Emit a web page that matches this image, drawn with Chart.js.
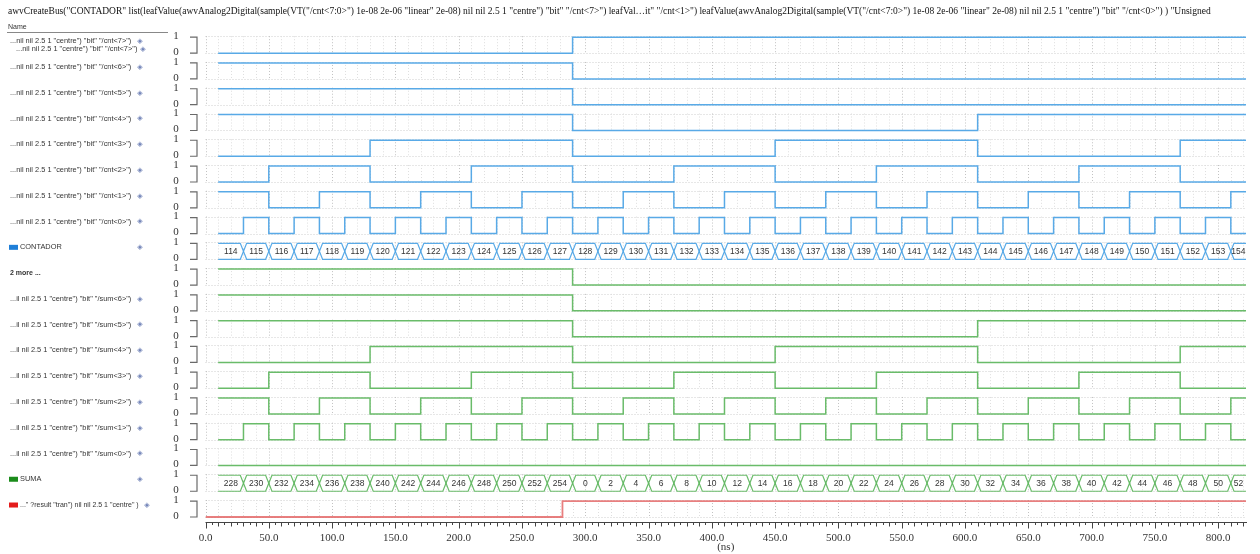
<!DOCTYPE html>
<html>
<head>
<meta charset="utf-8">
<script src="https://cdn.jsdelivr.net/npm/chart.js@4.4.1/dist/chart.umd.min.js"></script>
<style>
  html, body { margin: 0; padding: 0; background: #ffffff; }
  #wrap { width: 1260px; height: 554px; position: relative; }
</style>
</head>
<body>
<div id="wrap"><canvas id="c" width="1260" height="554"></canvas></div>
<script>
// Sample instants (ns) at which the counter bus takes a new value
const sampleTimes = [10, 30, 50, 70, 90, 110, 130, 150, 170, 190, 210, 230, 250, 270, 290,
  310, 330, 350, 370, 390, 410, 430, 450, 470, 490, 510, 530, 550, 570, 590, 610,
  630, 650, 670, 690, 710, 730, 750, 770, 790, 810];

// Bus values (unsigned) shown in the CONTADOR and SUMA rows
const contador = [114, 115, 116, 117, 118, 119, 120, 121, 122, 123, 124, 125, 126, 127, 128,
  129, 130, 131, 132, 133, 134, 135, 136, 137, 138, 139, 140, 141, 142, 143, 144,
  145, 146, 147, 148, 149, 150, 151, 152, 153, 154];
const suma = [228, 230, 232, 234, 236, 238, 240, 242, 244, 246, 248, 250, 252, 254, 0,
  2, 4, 6, 8, 10, 12, 14, 16, 18, 20, 22, 24, 26, 28, 30, 32,
  34, 36, 38, 40, 42, 44, 46, 48, 50, 52];

// Transient result signal: switching instants and levels
const resultTimes = [0, 282];
const resultLevels = [0, 1];

const endTime = 822;

// X axis ticks
const tickValues = [0, 50, 100, 150, 200, 250, 300, 350, 400, 450, 500, 550, 600, 650, 700, 750, 800];
const tickLabels = ['0.0', '50.0', '100.0', '150.0', '200.0', '250.0', '300.0', '350.0', '400.0',
  '450.0', '500.0', '550.0', '600.0', '650.0', '700.0', '750.0', '800.0'];

const title = 'awvCreateBus("CONTADOR" list(leafValue(awvAnalog2Digital(sample(VT("/cnt<7:0>") 1e-08 2e-06 "linear" 2e-08) nil nil 2.5 1 "centre") "bit" "/cnt<7>") leafVal\u2026it" "/cnt<1>") leafValue(awvAnalog2Digital(sample(VT("/cnt<7:0>") 1e-08 2e-06 "linear" 2e-08) nil nil 2.5 1 "centre") "bit" "/cnt<0>") ) "Unsigned';

// Row list, top to bottom
const rows = [
  { name: '...nil nil 2.5 1 "centre") "bit" "/cnt<7>")', kind: 'bit', src: contador, bit: 7, grp: 'cnt' },
  { name: '...nil nil 2.5 1 "centre") "bit" "/cnt<6>")', kind: 'bit', src: contador, bit: 6, grp: 'cnt' },
  { name: '...nil nil 2.5 1 "centre") "bit" "/cnt<5>")', kind: 'bit', src: contador, bit: 5, grp: 'cnt' },
  { name: '...nil nil 2.5 1 "centre") "bit" "/cnt<4>")', kind: 'bit', src: contador, bit: 4, grp: 'cnt' },
  { name: '...nil nil 2.5 1 "centre") "bit" "/cnt<3>")', kind: 'bit', src: contador, bit: 3, grp: 'cnt' },
  { name: '...nil nil 2.5 1 "centre") "bit" "/cnt<2>")', kind: 'bit', src: contador, bit: 2, grp: 'cnt' },
  { name: '...nil nil 2.5 1 "centre") "bit" "/cnt<1>")', kind: 'bit', src: contador, bit: 1, grp: 'cnt' },
  { name: '...nil nil 2.5 1 "centre") "bit" "/cnt<0>")', kind: 'bit', src: contador, bit: 0, grp: 'cnt' },
  { name: 'CONTADOR', kind: 'bus', src: contador, grp: 'cnt', swatch: '#1f7fd8' },
  { name: '2 more ...', kind: 'bit', src: suma, bit: 7, grp: 'sum', bold: true },
  { name: '...il nil 2.5 1 "centre") "bit" "/sum<6>")', kind: 'bit', src: suma, bit: 6, grp: 'sum' },
  { name: '...il nil 2.5 1 "centre") "bit" "/sum<5>")', kind: 'bit', src: suma, bit: 5, grp: 'sum' },
  { name: '...il nil 2.5 1 "centre") "bit" "/sum<4>")', kind: 'bit', src: suma, bit: 4, grp: 'sum' },
  { name: '...il nil 2.5 1 "centre") "bit" "/sum<3>")', kind: 'bit', src: suma, bit: 3, grp: 'sum' },
  { name: '...il nil 2.5 1 "centre") "bit" "/sum<2>")', kind: 'bit', src: suma, bit: 2, grp: 'sum' },
  { name: '...il nil 2.5 1 "centre") "bit" "/sum<1>")', kind: 'bit', src: suma, bit: 1, grp: 'sum' },
  { name: '...il nil 2.5 1 "centre") "bit" "/sum<0>")', kind: 'bit', src: suma, bit: 0, grp: 'sum' },
  { name: 'SUMA', kind: 'bus', src: suma, grp: 'sum', swatch: '#1b8c1b' },
  { name: '..." ?result "tran") nil nil 2.5 1 "centre" )', kind: 'result', grp: 'res', swatch: '#e41c1c' }
];

const lineColor = { cnt: 'rgba(80,165,230,0.95)', sum: 'rgba(98,184,98,0.95)', res: 'rgba(228,104,104,0.85)' };

// Vertical layout in value units: each row spans 0..1, rows are PITCH apart
const PITCH = 1.6125;
const NROWS = rows.length;
const rowBase = r => (NROWS - 1 - r) * PITCH;
const SLANT = 2.5; // ns half-width of a bus value crossing

const datasets = [];
rows.forEach((row, r) => {
  const b = rowBase(r);
  const color = lineColor[row.grp];
  if (row.kind === 'bit') {
    const pts = sampleTimes.map((t, i) => ({ x: t, y: b + ((row.src[i] >> row.bit) & 1) }));
    pts.push({ x: endTime, y: pts[pts.length - 1].y });
    datasets.push({ data: pts, borderColor: color, borderWidth: 1.5, pointRadius: 0, stepped: true, fill: false });
  } else if (row.kind === 'bus') {
    const up = [{ x: sampleTimes[0], y: b + 1 }];
    const lo = [{ x: sampleTimes[0], y: b }];
    for (let i = 1; i < sampleTimes.length; i++) {
      const t = sampleTimes[i];
      up.push({ x: t - SLANT, y: b + 1 }, { x: t, y: b + 0.5 }, { x: t + SLANT, y: b + 1 });
      lo.push({ x: t - SLANT, y: b }, { x: t, y: b + 0.5 }, { x: t + SLANT, y: b });
    }
    up.push({ x: endTime, y: b + 1 });
    lo.push({ x: endTime, y: b });
    datasets.push({ data: up, borderColor: color, borderWidth: 1.2, pointRadius: 0, tension: 0, fill: false });
    datasets.push({ data: lo, borderColor: color, borderWidth: 1.2, pointRadius: 0, tension: 0, fill: false });
  } else {
    const pts = resultTimes.map((t, i) => ({ x: t, y: b + resultLevels[i] }));
    pts.push({ x: endTime, y: b + resultLevels[resultLevels.length - 1] });
    datasets.push({ data: pts, borderColor: color, borderWidth: 1.8, pointRadius: 0, stepped: true, fill: false });
  }
});

const NAME_FONT = '7.4px "Liberation Sans"';

const waveDecor = {
  id: 'waveDecor',
  beforeDatasetsDraw(chart) {
    const ctx = chart.ctx;
    const xs = chart.scales.x, ys = chart.scales.y;
    const x0 = xs.getPixelForValue(0), x1 = xs.getPixelForValue(endTime);
    ctx.save();

    // title line, sized to run from the left margin to x = 1212
    ctx.fillStyle = '#111';
    ctx.font = '11px "Liberation Serif"';
    const w11 = ctx.measureText(title).width;
    const fs = Math.min(11, 11 * 1204 / w11);
    ctx.font = fs.toFixed(2) + 'px "Liberation Serif"';
    ctx.textBaseline = 'middle';
    ctx.textAlign = 'left';
    ctx.fillText(title, 8, 12);

    // name column header
    ctx.font = '7px "Liberation Sans"';
    ctx.fillStyle = '#333';
    ctx.fillText('Name', 8, 27);
    ctx.strokeStyle = '#888';
    ctx.lineWidth = 1;
    ctx.beginPath(); ctx.moveTo(7, 32.5); ctx.lineTo(168, 32.5); ctx.stroke();

    rows.forEach((row, r) => {
      const b = rowBase(r);
      const yT = ys.getPixelForValue(b + 1), yB = ys.getPixelForValue(b);
      const yM = (yT + yB) / 2;

      // dotted grid box for the row
      ctx.setLineDash([1, 2]);
      ctx.lineWidth = 1;
      ctx.strokeStyle = '#cfcfcf';
      ctx.beginPath();
      ctx.moveTo(x0, Math.round(yT) - 0.5); ctx.lineTo(x1, Math.round(yT) - 0.5);
      ctx.moveTo(x0, Math.round(yB) + 0.5); ctx.lineTo(x1, Math.round(yB) + 0.5);
      ctx.stroke();
      for (let t = 0; t <= endTime; t += 10) {
        const px = Math.round(xs.getPixelForValue(t)) + 0.5;
        ctx.strokeStyle = (t % 50 === 0) ? '#c2c2c2' : '#dedede';
        ctx.beginPath(); ctx.moveTo(px, yT - 1); ctx.lineTo(px, yB + 1); ctx.stroke();
      }
      ctx.setLineDash([]);

      // bracket and level labels
      ctx.strokeStyle = '#6a6a6a';
      ctx.lineWidth = 1.2;
      ctx.beginPath();
      ctx.moveTo(190, yT); ctx.lineTo(197, yT); ctx.lineTo(197, yB); ctx.lineTo(190, yB);
      ctx.stroke();
      ctx.fillStyle = '#333';
      ctx.font = '11px "Liberation Serif"';
      ctx.textAlign = 'center';
      ctx.textBaseline = 'middle';
      ctx.fillText('1', 176, yT - 1);
      ctx.fillText('0', 176, yB - 1);

      // signal name
      ctx.textAlign = 'left';
      const ly = yM - 4;
      let tx = 10;
      if (row.swatch) {
        ctx.fillStyle = row.swatch;
        ctx.fillRect(9, ly - 2.5, 9, 5);
        tx = 20;
      }
      ctx.fillStyle = '#333';
      ctx.font = row.bold ? 'bold 7px "Liberation Sans"' : (row.kind === 'result' ? '7px "Liberation Sans"' : NAME_FONT);
      ctx.fillText(row.name, tx, ly);
      if (!row.bold) {
        ctx.fillStyle = '#7284b8';
        ctx.font = '7px "DejaVu Sans"';
        ctx.textAlign = 'center';
        const ix = row.kind === 'result' ? 147 : 140;
        ctx.fillText('\u25C8', ix, ly);
      }
      if (r === 0) {
        ctx.textAlign = 'left';
        ctx.fillStyle = '#333';
        ctx.font = NAME_FONT;
        ctx.fillText(' ' + row.name, 14, yM + 4);
        ctx.fillStyle = '#7284b8';
        ctx.font = '7px "DejaVu Sans"';
        ctx.textAlign = 'center';
        ctx.fillText('\u25C8', 143, yM + 4);
      }
    });

    // time axis line with major / mid / minor ticks
    const ay = Math.round(chart.chartArea.bottom) - 0.5;
    ctx.strokeStyle = '#444';
    ctx.lineWidth = 1;
    ctx.beginPath(); ctx.moveTo(x0, ay); ctx.lineTo(x1 + 1, ay); ctx.stroke();
    ctx.beginPath();
    for (let t = 0; t <= endTime; t += 5) {
      const px = Math.round(xs.getPixelForValue(t)) + 0.5;
      const len = (t % 50 === 0) ? 6 : (t % 10 === 0 ? 4 : 2.5);
      ctx.moveTo(px, ay); ctx.lineTo(px, ay + len);
    }
    ctx.stroke();
    ctx.restore();
  },
  afterDatasetsDraw(chart) {
    const ctx = chart.ctx;
    const xs = chart.scales.x, ys = chart.scales.y;
    const ca = chart.chartArea;
    ctx.save();
    ctx.beginPath(); ctx.rect(ca.left, ca.top, ca.right - ca.left, ca.bottom - ca.top); ctx.clip();
    ctx.fillStyle = '#333';
    ctx.font = '8.5px "Liberation Sans"';
    ctx.textAlign = 'center';
    ctx.textBaseline = 'middle';
    rows.forEach((row, r) => {
      if (row.kind !== 'bus') return;
      const ym = ys.getPixelForValue(rowBase(r) + 0.5);
      row.src.forEach((v, i) => {
        const s = sampleTimes[i];
        const e = Math.min(i + 1 < sampleTimes.length ? sampleTimes[i + 1] : endTime + 100, endTime);
        ctx.fillText(String(v), xs.getPixelForValue((s + e) / 2), ym + 0.5);
      });
    });
    ctx.restore();
  }
};

new Chart(document.getElementById('c'), {
  type: 'line',
  data: { datasets },
  plugins: [waveDecor],
  options: {
    responsive: false,
    animation: false,
    devicePixelRatio: 1,
    layout: { padding: { left: 205.5, right: 14, top: 34, bottom: 0 } },
    plugins: { legend: { display: false }, tooltip: { enabled: false }, title: { display: false } },
    scales: {
      x: {
        type: 'linear',
        min: 0,
        max: endTime,
        afterBuildTicks: s => { s.ticks = tickValues.map(v => ({ value: v })); },
        afterFit: s => { s.height = 30.6; },
        grid: { display: false },
        border: { display: false },
        ticks: {
          padding: 0, color: '#333', maxRotation: 0, autoSkip: false,
          font: { family: 'Liberation Serif', size: 11 },
          callback: (v, i) => tickLabels[i]
        },
        title: {
          display: true, text: '(ns)', color: '#333',
          font: { family: 'Liberation Serif', size: 11 },
          padding: { top: 0, bottom: 0 }
        }
      },
      y: { display: false, min: -0.4, max: rowBase(0) + 1.2 }
    }
  }
});
</script>
</body>
</html>
